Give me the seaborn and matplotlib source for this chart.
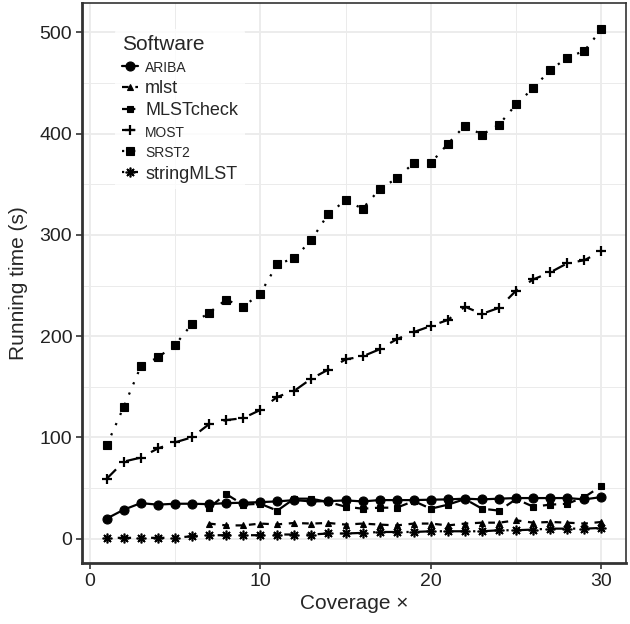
import numpy as np
import pandas as pd
import matplotlib
matplotlib.use("Agg")
import matplotlib.pyplot as plt
from matplotlib.ticker import MultipleLocator
import seaborn as sns

# running time (s) per coverage
coverage = list(range(1, 31))
coverage_late = list(range(7, 31))  # mlst / MLSTcheck only from 7x

ariba = [19.7, 28.5, 35, 33.5, 34.4, 34.4, 34, 35, 35.4, 36,
         36.7, 38, 36.7, 37, 37.7, 36.7, 38, 38, 38, 38.4,
         38.7, 39.4, 38.7, 39.4, 40, 40, 40, 40, 38.7, 41]
mlst = [14.8, 13, 13, 14.8, 14, 15.4, 14.8, 15.4, 13.8, 14.8,
        13.8, 13, 14.8, 14.8, 13, 14.8, 15.7, 15.7, 18, 15.7,
        16.4, 15.7, 14.8, 16.4]
mlstcheck = [30.5, 44, 33.5, 34.4, 27.6, 39.4, 39.4, 36, 31.5, 29.5,
             30.5, 30.5, 37, 29.5, 33.5, 39, 29.5, 27.6, 39, 31.5,
             33.5, 34.4, 41, 52]
most = [59, 76, 80, 89, 95, 100, 113, 117, 119, 127,
        140, 146, 158, 167, 177, 180, 187, 197, 204, 210,
        216, 229, 222, 228, 245, 256, 263, 272, 275, 284]
srst2 = [92, 130, 170, 179, 191, 212, 223, 236, 229, 242,
         271, 277, 295, 321, 334, 326, 345, 356, 371, 371,
         390, 408, 399, 409, 429, 445, 463, 475, 482, 503]
stringmlst = [0.7, 0.7, 0.7, 0.7, 0.7, 2.3, 3.3, 3.3, 3.3, 3.3,
              4, 4, 4, 5, 5, 5.6, 6.5, 6.5, 6.5, 7.2,
              7.2, 7.2, 7.2, 8.2, 8.2, 8.9, 9.8, 9.8, 9.8, 10.5]

software = ["ARIBA", "mlst", "MLSTcheck", "MOST", "SRST2", "stringMLST"]
series = [(coverage, ariba), (coverage_late, mlst), (coverage_late, mlstcheck),
          (coverage, most), (coverage, srst2), (coverage, stringmlst)]

frames = []
for name, (xs, ys) in zip(software, series):
    frames.append(pd.DataFrame({"Coverage": xs, "Time": ys, "Software": name}))
df = pd.concat(frames, ignore_index=True)

# ggplot-like shapes and linetypes
markers = {"ARIBA": "o", "mlst": "^", "MLSTcheck": "s",
           "MOST": "+", "SRST2": "s", "stringMLST": (8, 2, 0)}
msizes = {"ARIBA": 6.5, "mlst": 4.5, "MLSTcheck": 4, "MOST": 7.5, "SRST2": 5.2, "stringMLST": 7}
medge = {"ARIBA": 0.8, "mlst": 0.8, "MLSTcheck": 0.8, "MOST": 1.6, "SRST2": 0.8, "stringMLST": 1.2}
linestyles = {"ARIBA": "-", "mlst": (0, (3, 3)), "MLSTcheck": (0, (6, 3)),
              "MOST": (0, (6, 6)), "SRST2": (0, (1, 4)), "stringMLST": (0, (1, 4, 6, 4))}

sns.set_style("white")
plt.rcParams["font.family"] = ["Liberation Sans", "DejaVu Sans"]

fig = plt.figure(figsize=(6.3, 6.24), dpi=100)
ax = fig.add_axes([0.130, 0.098, 0.864, 0.897])

for name in software:
    sub = df[df["Software"] == name]
    sns.lineplot(data=sub, x="Coverage", y="Time", color="black", label=name,
                 marker=markers[name], markersize=msizes[name],
                 linestyle=linestyles[name], linewidth=1.6,
                 markeredgecolor="black", markeredgewidth=medge[name], ax=ax)

ax.set_xlim(-0.45, 31.45)
ax.set_ylim(-24, 529)
ax.xaxis.set_major_locator(MultipleLocator(10))
ax.xaxis.set_minor_locator(MultipleLocator(5))
ax.yaxis.set_major_locator(MultipleLocator(100))
ax.yaxis.set_minor_locator(MultipleLocator(50))
ax.grid(True, which="major", color="#EBEBEB", linewidth=1.3)
ax.grid(True, which="minor", color="#EBEBEB", linewidth=0.7)
ax.set_axisbelow(True)

for side in ["top", "right"]:
    ax.spines[side].set_color("#333333")
    ax.spines[side].set_linewidth(1.2)
for side in ["left", "bottom"]:
    ax.spines[side].set_color("#333333")
    ax.spines[side].set_linewidth(2.0)

ax.tick_params(axis="both", which="major", length=4, width=1.2, color="#333333",
               labelsize=14, labelcolor="#222222", direction="out", pad=3,
               left=True, bottom=True)
ax.tick_params(which="minor", length=0)
ax.set_xlabel("Coverage \u00d7", fontsize=15, labelpad=3)
ax.set_ylabel("Running time (s)", fontsize=15, labelpad=8)

leg = ax.legend(title="Software", loc="upper left",
                bbox_to_anchor=(0.045, 0.97), frameon=True, fontsize=13,
                title_fontsize=15, handlelength=0.9, handletextpad=0.4,
                labelspacing=0.28, borderpad=0.35, alignment="left")
leg.get_frame().set_facecolor("white")
leg.get_frame().set_edgecolor("none")
for t in leg.get_texts():
    if t.get_text() in ("ARIBA", "MOST", "SRST2"):
        t.set_fontsize(10)

fig.savefig("out.png", dpi=100)
